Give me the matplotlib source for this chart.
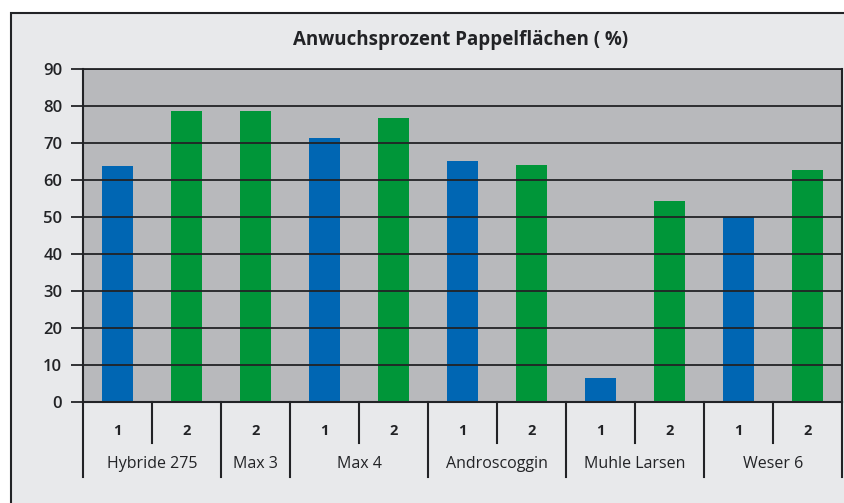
import matplotlib.pyplot as plt
from matplotlib.patches import Rectangle

# data
groups = ['Hybride 275', 'Max 3', 'Max 4', 'Androscoggin', 'Muhle Larsen', 'Weser 6']
sub_labels = [['1', '2'], ['2'], ['1', '2'], ['1', '2'], ['1', '2'], ['1', '2']]
values = [[63.8, 78.6], [78.6], [71.4, 76.8], [65.1, 64.0], [6.5, 54.3], [50.0, 62.7]]
y_ticks = [0, 10, 20, 30, 40, 50, 60, 70, 80, 90]

blue = '#0066b3'
green = '#009639'
plot_bg = '#b8b9bc'
fig_bg = '#e8e9eb'
dark = '#222326'

plt.rcParams['font.family'] = ['Open Sans', 'DejaVu Sans']

W, H = 845, 503
fig = plt.figure(figsize=(W / 100, H / 100), dpi=100, facecolor='white')

# outer frame
fig.patches.append(Rectangle((11 / W, 1 - 13 / H), 2, -2, transform=fig.transFigure,
                             facecolor=fig_bg, edgecolor=dark, linewidth=1.5, zorder=-10))

ax = fig.add_axes([83 / W, 1 - 402 / H, (842 - 83) / W, (402 - 69) / H])
ax.set_facecolor(plot_bg)

# flatten bars
xs, hs, cols, labs = [], [], [], []
i = 0
bounds = [-0.5]
for g, subs, vals in zip(groups, sub_labels, values):
    for s, v in zip(subs, vals):
        xs.append(i)
        hs.append(v)
        cols.append(blue if s == '1' else green)
        labs.append(s)
        i += 1
    bounds.append(i - 0.5)

ax.bar(xs, hs, width=0.46, color=cols, zorder=2)
ax.set_xlim(-0.5, len(xs) - 0.5)
ax.set_ylim(0, 90)
ax.set_yticks(y_ticks)
ax.set_yticklabels([str(t) for t in y_ticks], fontsize=12, fontweight='semibold', color=dark)
ax.tick_params(axis='y', length=9, width=1.3, color=dark, pad=6)
ax.set_xticks([])
ax.yaxis.grid(True, color=dark, linewidth=1.3, zorder=3)
ax.set_axisbelow(False)
for sp in ax.spines.values():
    sp.set_color(dark)
    sp.set_linewidth(1.5)
ax.spines['top'].set_linewidth(1.3)

tr = ax.get_xaxis_transform()
ah = 402 - 69
short = -(443 - 402) / ah
long_ = -(477 - 402) / ah

# separators
for b in range(len(xs) + 1):
    xb = b - 0.5
    y1 = long_ if xb in bounds else short
    ax.plot([xb, xb], [0, y1], color=dark, linewidth=1.5, transform=tr, clip_on=False)

for x, s in zip(xs, labs):
    ax.text(x, -(431 - 402) / ah, s, transform=tr, ha='center', va='center',
            fontsize=10.5, fontweight='bold', color=dark)

for k, g in enumerate(groups):
    ax.text((bounds[k] + bounds[k + 1]) / 2, -(464 - 402) / ah, g, transform=tr,
            ha='center', va='center', fontsize=11.5, color=dark)

fig.text(461 / W, 1 - 40 / H, 'Anwuchsprozent Pappelflächen ( %)', ha='center', va='center',
         fontsize=13.5, fontweight='bold', color=dark)

fig.savefig('out.png', dpi=100, facecolor=fig.get_facecolor())
